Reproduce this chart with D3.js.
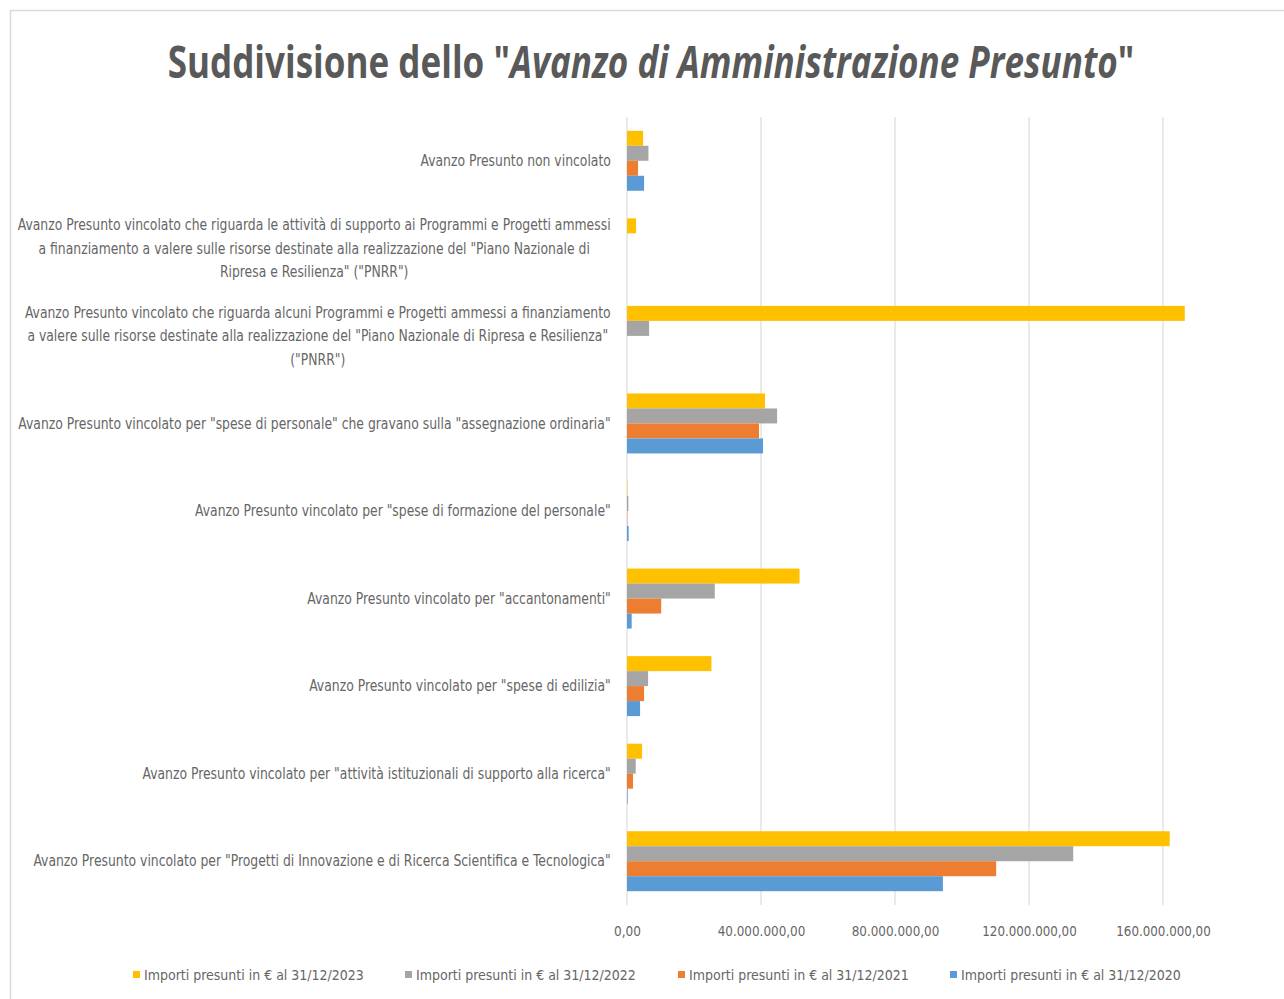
<!DOCTYPE html>
<html>
<head>
<meta charset="utf-8">
<script src="https://cdn.jsdelivr.net/npm/d3@7"></script>
<style>
  body { margin: 0; background: #fff; }
  text { font-family: "Liberation Sans Narrow", "DejaVu Sans Condensed", "Liberation Sans", sans-serif; fill: #595959; }
</style>
</head>
<body>
<script>
// categories, top to bottom (each entry = wrapped lines of the label)
var categories = [
  ["Avanzo Presunto non vincolato"],
  ["Avanzo Presunto vincolato che riguarda le attività di supporto ai Programmi e Progetti ammessi",
   "a finanziamento a valere sulle risorse destinate alla realizzazione del \"Piano Nazionale di",
   "Ripresa e Resilienza\" (\"PNRR\")"],
  ["Avanzo Presunto vincolato che riguarda alcuni Programmi e Progetti ammessi a finanziamento",
   "a valere sulle risorse destinate alla realizzazione del \"Piano Nazionale di Ripresa e Resilienza\"",
   "(\"PNRR\")"],
  ["Avanzo Presunto vincolato per \"spese di personale\" che gravano sulla \"assegnazione ordinaria\""],
  ["Avanzo Presunto vincolato per \"spese di formazione del personale\""],
  ["Avanzo Presunto vincolato per \"accantonamenti\""],
  ["Avanzo Presunto vincolato per \"spese di edilizia\""],
  ["Avanzo Presunto vincolato per \"attività istituzionali di supporto alla ricerca\""],
  ["Avanzo Presunto vincolato per \"Progetti di Innovazione e di Ricerca Scientifica e Tecnologica\""]
];

var seriesNames = [
  "Importi presunti in € al 31/12/2023",
  "Importi presunti in € al 31/12/2022",
  "Importi presunti in € al 31/12/2021",
  "Importi presunti in € al 31/12/2020"
];
var seriesColors = ["#FFC000", "#A5A5A5", "#ED7D31", "#5B9BD5"];

// values in euro, same order as categories
var values2023 = [4.8e6, 2.7e6, 166.5e6, 41.2e6, 0.1e6, 51.5e6, 25.2e6, 4.5e6, 162.0e6];
var values2022 = [6.4e6, 0, 6.6e6, 44.8e6, 0.4e6, 26.2e6, 6.3e6, 2.6e6, 133.2e6];
var values2021 = [3.3e6, 0, 0, 39.4e6, 0.1e6, 10.2e6, 5.1e6, 1.8e6, 110.2e6];
var values2020 = [5.1e6, 0, 0, 40.6e6, 0.5e6, 1.4e6, 3.9e6, 0.2e6, 94.3e6];
var allSeries = [values2023, values2022, values2021, values2020];

var tickValues = [0, 40e6, 80e6, 120e6, 160e6];

var W = 1284, H = 999;
var svg = d3.select("body").append("svg").attr("width", W).attr("height", H);

// chart border
svg.append("rect").attr("x", 10.5).attr("y", 10.5).attr("width", W + 20).attr("height", H + 20)
  .attr("fill", "#fff").attr("stroke", "#D9D9D9").attr("stroke-width", 1.5);

// helper: squeeze text horizontally to a target width around an anchor x
function fitWidth(node, target, ax) {
  var w = node.getComputedTextLength();
  var k = target / w;
  d3.select(node).attr("transform", "translate(" + ax + ",0) scale(" + k + ",1) translate(" + (-ax) + ",0)");
  return k;
}

// title
var title = svg.append("text").attr("x", 651).attr("y", 78).attr("text-anchor", "middle")
  .style("font-size", "44px").style("font-weight", "bold")
  .style("font-family", "\"Open Sans\", \"DejaVu Sans\", sans-serif");
title.append("tspan").text("Suddivisione dello \"");
title.append("tspan").style("font-style", "italic").text("Avanzo di Amministrazione Presunto");
title.append("tspan").text("\"");
fitWidth(title.node(), 967, 651);

var x = d3.scaleLinear().domain([0, 170e6]).range([627, 627 + 134 * 4.25]);
var y = d3.scaleBand().domain(d3.range(categories.length)).range([117, 905])
  .paddingInner(0.315).paddingOuter(0.1575);
var ySub = d3.scaleBand().domain(d3.range(seriesNames.length)).range([0, y.bandwidth()]);

// gridlines
svg.append("g").selectAll("line").data(tickValues).join("line")
  .attr("x1", function(d) { return x(d); }).attr("x2", function(d) { return x(d); })
  .attr("y1", 117).attr("y2", 905)
  .attr("stroke", "#E3E3E3").attr("stroke-width", 1.5);

// x axis labels
var loc = d3.formatLocale({ decimal: ",", thousands: ".", grouping: [3], currency: ["", "€"] });
var fmt = loc.format(",.2f");
var xAxis = d3.axisBottom(x).tickValues(tickValues).tickFormat(fmt).tickSize(0).tickPadding(0);
var gx = svg.append("g").attr("transform", "translate(0,926)").call(xAxis);
gx.select(".domain").remove();
gx.selectAll("text").style("font-size", "14px").style("fill", "#666")
  .style("font-family", "\"Liberation Sans Narrow\", \"DejaVu Sans Condensed\", sans-serif")
  .each(function(d) {
    var t = this;
    var w = t.getComputedTextLength();
    // reference: 13 chars ≈ 88px
    var k = (fmt(d).length * 6.75) / w;
    d3.select(t).attr("transform", "scale(" + k + ",1)").attr("x", 0);
  });

// bars
var groups = svg.append("g").selectAll("g").data(categories).join("g")
  .attr("transform", function(d, i) { return "translate(0," + y(i) + ")"; });
groups.each(function(c, ci) {
  d3.select(this).selectAll("rect").data(allSeries).join("rect")
    .attr("x", x(0))
    .attr("y", function(s, si) { return ySub(si); })
    .attr("height", ySub.bandwidth())
    .attr("width", function(s) { return x(s[ci]) - x(0); })
    .attr("fill", function(s, si) { return seriesColors[si]; });
});

// category labels
var labelRight = 611, lineH = 23.5;
var labels = svg.append("g").selectAll("text").data(categories).join("text")
  .attr("text-anchor", "middle")
  .style("font-size", "15px").style("fill", "#666");
labels.each(function(lines, i) {
  var t = d3.select(this);
  var cy = y(i) + y.bandwidth() / 2;
  lines.forEach(function(l, li) {
    t.append("tspan").attr("x", 0)
      .attr("y", cy + (li - (lines.length - 1) / 2) * lineH)
      .attr("dy", "0.35em").text(l);
  });
});
// horizontal squeeze derived from the longest single line (≈578px in the reference)
var refNode = labels.filter(function(d, i) { return i === 8; }).node();
var labelK = 578 / refNode.getComputedTextLength();
labels.each(function() {
  var maxW = 0;
  d3.select(this).selectAll("tspan").each(function() {
    maxW = Math.max(maxW, this.getComputedTextLength());
  });
  var cx = labelRight - maxW * labelK / 2;
  d3.select(this).attr("transform", "translate(" + cx + ",0) scale(" + labelK + ",1)");
});

// legend
var legendX = [133, 405, 678, 950];
var lg = svg.append("g").selectAll("g").data(seriesNames).join("g")
  .attr("transform", function(d, i) { return "translate(" + legendX[i] + ",975)"; });
lg.append("rect").attr("x", 0).attr("y", -4).attr("width", 7).attr("height", 7)
  .attr("fill", function(d, i) { return seriesColors[i]; });
lg.append("text").attr("x", 11).attr("dy", "0.35em").style("font-size", "14px").style("fill", "#666")
  .text(function(d) { return d; })
  .each(function() { fitWidth(this, 220, 11); });
</script>
</body>
</html>
